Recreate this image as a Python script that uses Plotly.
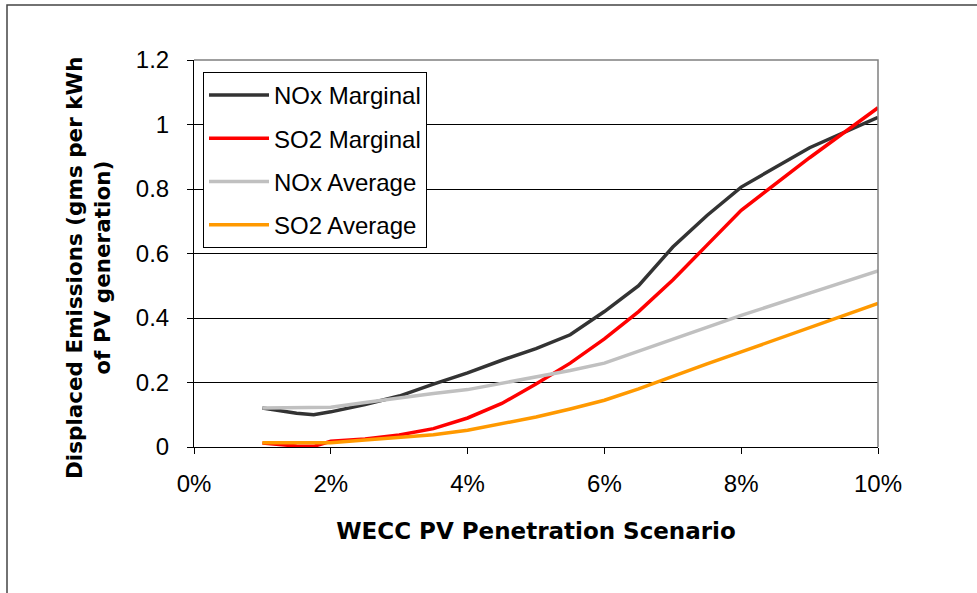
import plotly.graph_objects as go

# Data (PV penetration in %, emissions in g/kWh)
penetration = [1, 1.5, 1.75, 2, 2.5, 3, 3.5, 4, 4.5, 5, 5.5, 6, 6.5, 7, 7.5, 8, 9, 10]
nox_marginal = [0.121, 0.105, 0.100, 0.109, 0.132, 0.158, 0.195, 0.230, 0.269, 0.305, 0.348, 0.420,
                0.500, 0.620, 0.718, 0.806, 0.928, 1.022]
so2_marginal = [0.012, 0.003, 0.002, 0.018, 0.025, 0.037, 0.057, 0.090, 0.135, 0.195, 0.260, 0.335,
                0.420, 0.518, 0.626, 0.734, 0.897, 1.052]
nox_average = [0.121, 0.121, 0.121, 0.123, 0.138, 0.153, 0.166, 0.178, 0.197, 0.217, 0.237, 0.260,
               0.297, 0.334, 0.371, 0.408, 0.477, 0.546]
so2_average = [0.013, 0.012, 0.012, 0.013, 0.022, 0.030, 0.038, 0.052, 0.072, 0.093, 0.118, 0.145,
               0.180, 0.220, 0.258, 0.295, 0.370, 0.445]

series_names = ["NOx Marginal", "SO2 Marginal", "NOx Average", "SO2 Average"]
series_values = [nox_marginal, so2_marginal, nox_average, so2_average]
series_colors = ["#333333", "#FF0000", "#C0C0C0", "#FF9900"]

x_title = "WECC PV Penetration Scenario"
y_title = "Displaced Emissions (gms per kWh<br>of PV generation)"

x_frac = [p / 100 for p in penetration]

fig = go.Figure()
for i, (name, vals, col) in enumerate(zip(series_names, series_values, series_colors)):
    fig.add_trace(go.Scatter(x=x_frac, y=vals, mode="lines", name=name,
                             legendgroup=f"g{i}",
                             line=dict(color=col, width=3.5)))

W, H = 977, 593
L, R, T, B = 194, 99, 60, 146
pw, ph = W - L - R, H - T - B

def px(xp):
    return (xp - L) / pw

def py(yp):
    return (H - B - yp) / ph

font = "Liberation Sans, Arial, sans-serif"
title_font = "DejaVu Sans, Liberation Sans, Arial, sans-serif"

fig.update_layout(
    width=W, height=H,
    margin=dict(l=L, r=R, t=T, b=B, pad=0),
    paper_bgcolor="white", plot_bgcolor="white",
    font=dict(family=font, size=24, color="black"),
    showlegend=True,
    legend=dict(x=px(203), y=py(72), xanchor="left", yanchor="top",
                bgcolor="white", bordercolor="black", borderwidth=1,
                font=dict(size=24, family=font, color="black"),
                tracegroupgap=9, itemwidth=60,
                traceorder="grouped"),
    xaxis=dict(range=[0, 0.1], dtick=0.02, tick0=0, tickformat=".0%",
               showgrid=False, zeroline=False,
               showline=True, linecolor="black", linewidth=1,
               ticks="outside", ticklen=6, tickcolor="black",
               ticklabelstandoff=9,
               tickfont=dict(size=24),
               title=dict(text=f"<b>{x_title}</b>",
                          font=dict(size=23, family=title_font), standoff=27)),
    yaxis=dict(range=[0, 1.2], dtick=0.2, tick0=0,
               showgrid=True, gridcolor="black", gridwidth=1,
               zeroline=False,
               showline=True, linecolor="black", linewidth=1,
               ticks="outside", ticklen=6, tickcolor="black",
               ticklabelstandoff=13,
               tickfont=dict(size=24)),
    annotations=[
        dict(text=f"<b>{y_title}</b>", textangle=-90, showarrow=False,
             xref="paper", yref="paper", x=px(88), y=py(268),
             xanchor="center", yanchor="middle",
             font=dict(size=21.5, family=title_font, color="black")),
    ],
    shapes=[
        # gray border on top and right of plot area
        dict(type="path", xref="paper", yref="paper",
             path="M 0,1 L 1,1 L 1,0", line=dict(color="#808080", width=1.5)),
        # outer chart frame (cropped)
        dict(type="path", xref="paper", yref="paper",
             path=f"M {px(7)},{py(600)} L {px(7)},{py(5)} L {px(990)},{py(5)}",
             line=dict(color="#444444", width=1.5)),
    ],
)

fig.write_html("out.html", config={"displayModeBar": False},
               post_script="document.body.style.margin='0';document.body.style.overflow='hidden';")
